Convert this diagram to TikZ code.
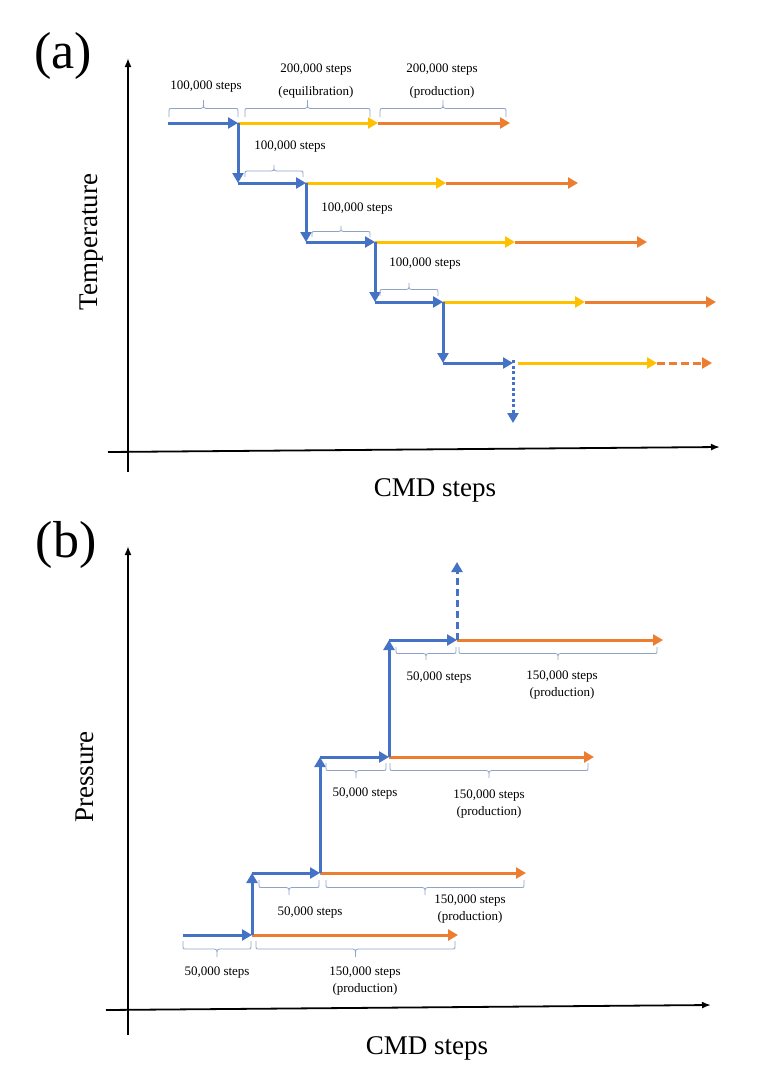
\documentclass[tikz,border=0pt]{standalone}
\usepackage{fontspec}
\setmainfont{Liberation Serif}
\usetikzlibrary{arrows.meta}
\definecolor{cblue}{HTML}{4472C4}
\definecolor{cyel}{HTML}{FFC000}
\definecolor{corg}{HTML}{ED7D31}
\definecolor{cbrace}{RGB}{143,163,198}
\tikzset{
  seg/.style={line width=3pt, -{Triangle[length=10pt,width=11pt]}},
  bl/.style={seg, draw=cblue, color=cblue},
  yl/.style={seg, draw=cyel, color=cyel},
  ol/.style={seg, draw=corg, color=corg},
  brcs/.style={draw=cbrace, line width=0.8pt},
  lbl/.style={font=\fontsize{13}{15}\selectfont, inner sep=0pt},
  axis/.style={line width=1.8pt, draw=black, -{Latex[length=9pt,width=7pt]}},
  big/.style={font=\fontsize{27}{30}\selectfont, inner sep=0pt},
  huge/.style={font=\fontsize{52}{56}\selectfont, inner sep=0pt},
}
% Word-style brace: #1 left x, #2 right x, #3 y of the ends, #4 height (positive: tip up)
\newcommand\wbrace[4]{%
  \pgfmathsetmacro\wbm{#3-#4/2}%
  \pgfmathsetmacro\wbt{#3-#4}%
  \pgfmathsetmacro\wbc{(#1+#2)/2}%
  \pgfmathsetmacro\wbr{#4>0?2.5:-2.5}%
  \draw[brcs] (#1,#3) -- (#1,\wbm+\wbr) .. controls (#1,\wbm) .. (#1+2.5,\wbm)
    -- (\wbc-2.5,\wbm) .. controls (\wbc,\wbm) .. (\wbc,\wbt)
    .. controls (\wbc,\wbm) .. (\wbc+2.5,\wbm)
    -- (#2-2.5,\wbm) .. controls (#2,\wbm) .. (#2,\wbm+\wbr) -- (#2,#3);%
}
\begin{document}
\begin{tikzpicture}[x=1pt,y=-1pt]
\useasboundingbox (0,0) rectangle (763,1068);

% ---------------- panel (a) ----------------
\node[huge] (la) at (63,56) {(a)};
\coordinate (ayb) at (128,472); \coordinate (ayt) at (128,58);
\coordinate (axl) at (108,452); \coordinate (axr) at (720,447);
\draw[axis] (ayb) -- (ayt);
\draw[axis] (axl) -- (axr);
\node[big, rotate=90] (temp) at (92,242) {Temperature};
\node[big] (cmda) at (435,490) {CMD steps};

\coordinate (A1) at (168,123); \coordinate (A1b) at (238,123); \coordinate (A1y) at (378,123); \coordinate (A1o) at (510,123);
\coordinate (A2) at (238,183); \coordinate (A2b) at (306,183); \coordinate (A2y) at (446,183); \coordinate (A2o) at (578,183);
\coordinate (A3) at (306,242); \coordinate (A3b) at (375,242); \coordinate (A3y) at (515,242); \coordinate (A3o) at (647,242);
\coordinate (A4) at (375,302); \coordinate (A4b) at (443,302); \coordinate (A4y) at (585,302); \coordinate (A4o) at (716,302);
\coordinate (A5) at (443,363); \coordinate (A5b) at (513,363); \coordinate (A5s) at (518,363); \coordinate (A5y) at (657,363); \coordinate (A5o) at (712,363);
\coordinate (A6) at (513,423);

\draw[bl] (A1) -- (A1b); \draw[yl] (A1b) -- (A1y); \draw[ol] (A1y) -- (A1o);
\draw[bl] (A1b) -- (A2);
\draw[bl] (A2) -- (A2b); \draw[yl] (A2b) -- (A2y); \draw[ol] (A2y) -- (A2o);
\draw[bl] (A2b) -- (A3);
\draw[bl] (A3) -- (A3b); \draw[yl] (A3b) -- (A3y); \draw[ol] (A3y) -- (A3o);
\draw[bl] (A3b) -- (A4);
\draw[bl] (A4) -- (A4b); \draw[yl] (A4b) -- (A4y); \draw[ol] (A4y) -- (A4o);
\draw[bl] (A4b) -- (A5);
\draw[bl] (A5) -- (A5b); \draw[yl] (A5s) -- (A5y); \draw[ol, dash pattern=on 8pt off 4pt] (A5y) -- (A5o);
\draw[bl, dash pattern=on 3pt off 2.5pt] ([yshift=3pt]A5b) -- (A6);

% braces (a)
\wbrace{169}{238}{117}{17}
\node[lbl] (ta1) at (206,87) {100,000 steps};
\wbrace{245}{370}{117}{17}
\node[lbl] (ta2) at (316,70) {200,000 steps};
\node[lbl] (ta3) at (316,92) {(equilibration)};
\wbrace{380}{506}{117}{17}
\node[lbl] (ta4) at (442,70) {200,000 steps};
\node[lbl] (ta5) at (442,92) {(production)};
\wbrace{245}{303}{177}{12}
\node[lbl] (ta6) at (290,147) {100,000 steps};
\wbrace{312}{370}{237}{11}
\node[lbl] (ta7) at (357,209) {100,000 steps};
\wbrace{380}{438}{296}{13}
\node[lbl] (ta8) at (425,264) {100,000 steps};

% ---------------- panel (b) ----------------
\node[huge] (lb) at (66,545) {(b)};
\coordinate (byb) at (128,1035); \coordinate (byt) at (128,546);
\coordinate (bxl) at (106,1010); \coordinate (bxr) at (711,1005);
\draw[axis] (byb) -- (byt);
\draw[axis] (bxl) -- (bxr);
\node[big, rotate=90] (pres) at (85,777) {Pressure};
\node[big] (cmdb) at (427,1048) {CMD steps};

\coordinate (B1) at (183,935); \coordinate (B1b) at (252,935); \coordinate (B1o) at (458,935);
\coordinate (B2) at (252,873); \coordinate (B2b) at (320,873); \coordinate (B2o) at (526,873);
\coordinate (B3) at (320,757); \coordinate (B3b) at (389,757); \coordinate (B3o) at (594,757);
\coordinate (B4) at (389,640); \coordinate (B4b) at (457,640); \coordinate (B4o) at (663,640);
\coordinate (B5) at (457,562);

\draw[bl] (B1) -- (B1b); \draw[ol] (B1b) -- (B1o);
\draw[bl] (B1b) -- (B2);
\draw[bl] (B2) -- (B2b); \draw[ol] (B2b) -- (B2o);
\draw[bl] (B2b) -- (B3);
\draw[bl] (B3) -- (B3b); \draw[ol] (B3b) -- (B3o);
\draw[bl] (B3b) -- (B4);
\draw[bl] (B4) -- (B4b); \draw[ol] (B4b) -- (B4o);
\draw[bl, dash pattern=on 7pt off 4pt] (B4b) -- (B5);

% braces (b)
\wbrace{183}{251}{941}{-16}
\node[lbl] (tb1) at (217,973) {50,000 steps};
\wbrace{256}{455}{941}{-16}
\node[lbl] (tb2) at (365,973) {150,000 steps};
\node[lbl] (tb3) at (365,989) {(production)};
\wbrace{259}{319}{880}{-15}
\node[lbl] (tb4) at (310,913) {50,000 steps};
\wbrace{326}{524}{880}{-15}
\node[lbl] (tb5) at (470,901) {150,000 steps};
\node[lbl] (tb6) at (470,917) {(production)};
\wbrace{326}{386}{763}{-15}
\node[lbl] (tb7) at (365,794) {50,000 steps};
\wbrace{390}{588}{763}{-15}
\node[lbl] (tb8) at (489,796) {150,000 steps};
\node[lbl] (tb9) at (489,812) {(production)};
\wbrace{396}{456}{647}{-13}
\node[lbl] (tb10) at (439,678) {50,000 steps};
\wbrace{459}{657}{647}{-13}
\node[lbl] (tb11) at (562,677) {150,000 steps};
\node[lbl] (tb12) at (562,693) {(production)};
\end{tikzpicture}
\end{document}
